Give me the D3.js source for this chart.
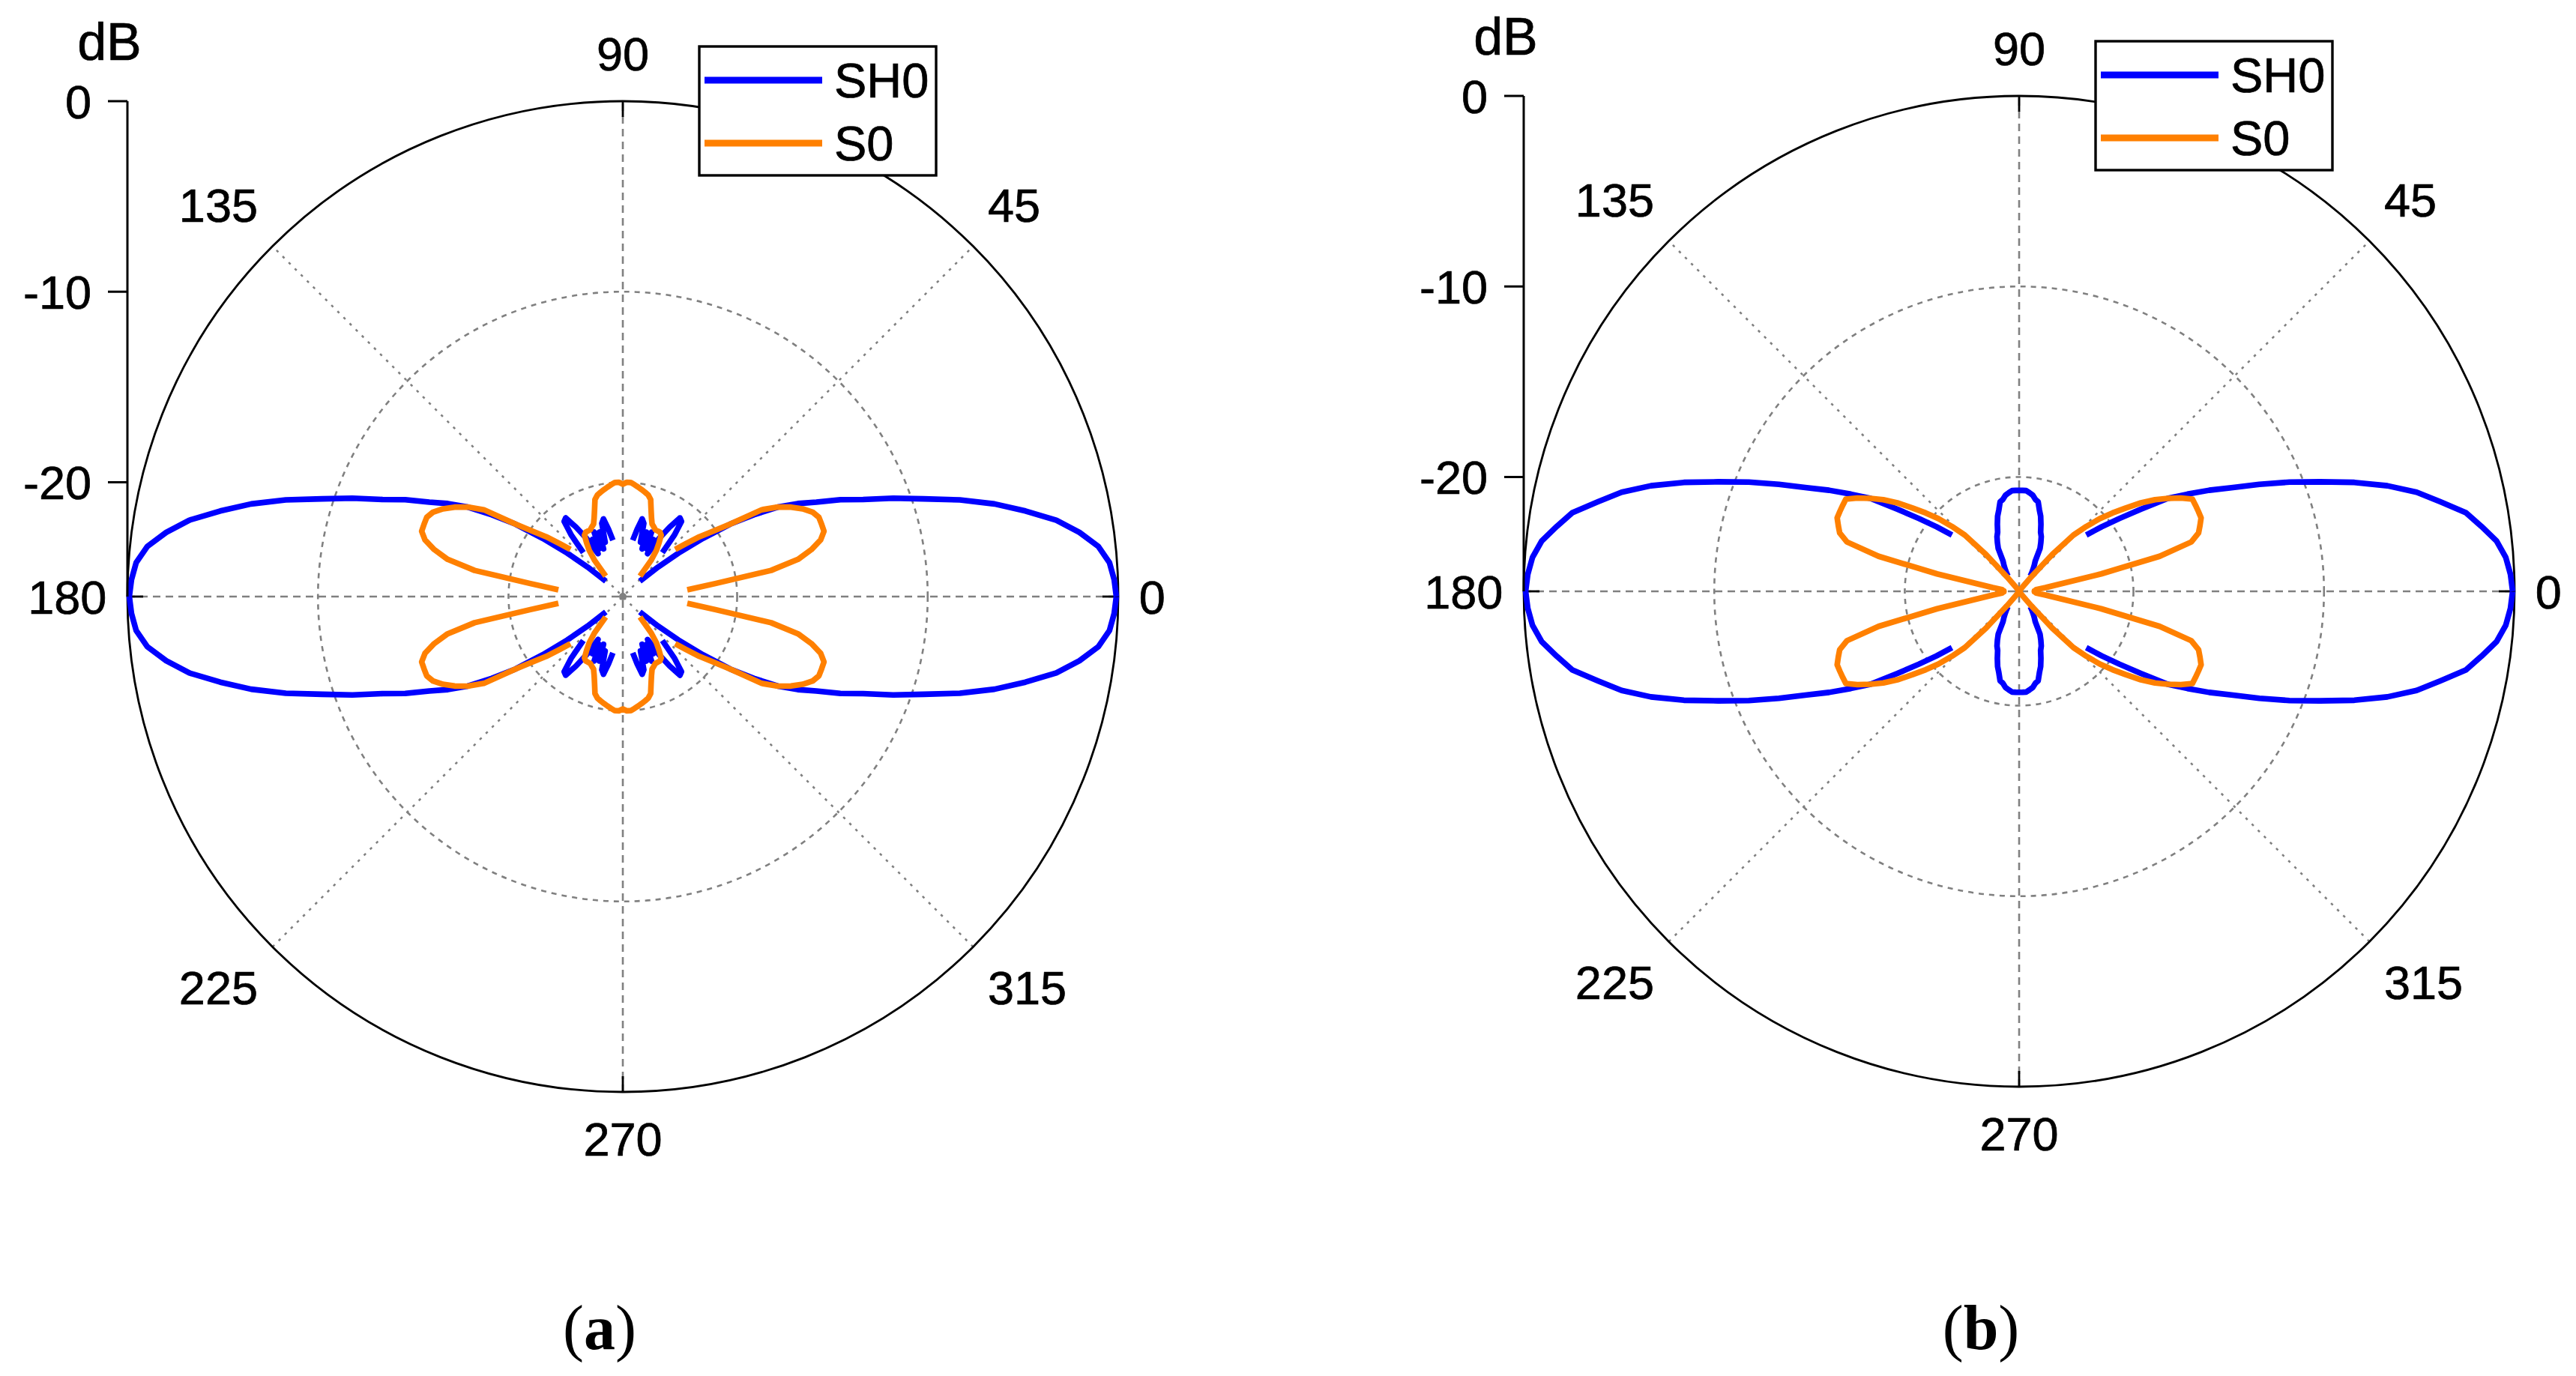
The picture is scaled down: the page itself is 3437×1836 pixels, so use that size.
<!DOCTYPE html>
<html>
<head>
<meta charset="utf-8">
<script src="https://cdn.jsdelivr.net/npm/d3@7"></script>
<style>
body { margin: 0; background: #fff; }
svg { display: block; background: #fff; }
text { font-family: "Liberation Sans", Arial, sans-serif; fill: #000; }
</style>
</head>
<body>
<svg id="chart" width="3437" height="1836"></svg>
<script>
// angles of the spokes / labels, and radial ticks in dB
var angleTicks = [0, 45, 90, 135, 180, 225, 270, 315];
var dbTicks = [0, -10, -20];
var dbLimits = [-26, 0];
var seriesNames = ['SH0', 'S0'];
var seriesColors = ['#0000ff', '#ff8000'];
var panelLabels = ['a', 'b'];

// curves are read every 2 degrees, 0..360 (null = below the plot floor, not drawn)
var sampleAngles = d3.range(0, 361, 2);

// (a) SH0
var sh0A = [
  -0.1, -0.2, -0.4, -0.9, -1.8, -2.9, -4.4, -5.9, -7.6, -9.4, -10.9, -12.4, -13.5, -14.7, -15.6, -16.6, -17.9, -19.2, -20.8, -22.3, -23.6, -24.8, null, null, -22.9, -21.8, -21.0, -20.9, -21.6, -22.4, -23.4, -22.6, -23.2, -22.3, -23.3, -22.4, -23.0, -22.0, -21.8, -22.4, -23.0, null, null, null, null, null,
  null, null, null, null, -23.0, -22.4, -21.8, -22.0, -23.0, -22.4, -23.3, -22.3, -23.2, -22.6, -23.4, -22.4, -21.6, -20.9, -21.0, -21.8, -22.9, null, null, -24.8, -23.6, -22.3, -20.8, -19.2, -17.9, -16.6, -15.6, -14.7, -13.5, -12.4, -10.9, -9.4, -7.6, -5.9, -4.4, -2.9, -1.8, -0.9, -0.4, -0.2, -0.1,
  -0.2, -0.4, -0.9, -1.8, -2.9, -4.4, -5.9, -7.6, -9.4, -10.9, -12.4, -13.5, -14.7, -15.6, -16.6, -17.9, -19.2, -20.8, -22.3, -23.6, -24.8, null, null, -22.9, -21.8, -21.0, -20.9, -21.6, -22.4, -23.4, -22.6, -23.2, -22.3, -23.3, -22.4, -23.0, -22.0, -21.8, -22.4, -23.0, null, null, null, null, null,
  null, null, null, null, -23.0, -22.4, -21.8, -22.0, -23.0, -22.4, -23.3, -22.3, -23.2, -22.6, -23.4, -22.4, -21.6, -20.9, -21.0, -21.8, -22.9, null, null, -24.8, -23.6, -22.3, -20.8, -19.2, -17.9, -16.6, -15.6, -14.7, -13.5, -12.4, -10.9, -9.4, -7.6, -5.9, -4.4, -2.9, -1.8, -0.9, -0.4, -0.2, -0.1
];

// (a) S0
var s0A = [
  null, null, null, -22.6, -21.1, -18.1, -16.6, -15.8, -15.2, -14.9, -14.9, -14.9, -15.1, -15.5, -16.0, -16.6, -17.4, -19.2, -20.2, -20.9, -21.7, -22.3, null, null, null, -24.6, -23.6, -23.0, -22.6, -22.2, -22.1, -22.1, -22.1, -22.0, -21.9, -21.6, -21.2, -20.7, -20.5, -20.4, -20.3, -20.2, -20.1, -20.0, -20.0, -20.1,
  -20.0, -20.0, -20.1, -20.2, -20.3, -20.4, -20.5, -20.7, -21.2, -21.6, -21.9, -22.0, -22.1, -22.1, -22.1, -22.2, -22.6, -23.0, -23.6, -24.6, null, null, null, -22.3, -21.7, -20.9, -20.2, -19.2, -17.4, -16.6, -16.0, -15.5, -15.1, -14.9, -14.9, -14.9, -15.2, -15.8, -16.6, -18.1, -21.1, -22.6, null, null, null,
  null, null, -22.6, -21.1, -18.1, -16.6, -15.8, -15.2, -14.9, -14.9, -14.9, -15.1, -15.5, -16.0, -16.6, -17.4, -19.2, -20.2, -20.9, -21.7, -22.3, null, null, null, -24.6, -23.6, -23.0, -22.6, -22.2, -22.1, -22.1, -22.1, -22.0, -21.9, -21.6, -21.2, -20.7, -20.5, -20.4, -20.3, -20.2, -20.1, -20.0, -20.0, -20.1,
  -20.0, -20.0, -20.1, -20.2, -20.3, -20.4, -20.5, -20.7, -21.2, -21.6, -21.9, -22.0, -22.1, -22.1, -22.1, -22.2, -22.6, -23.0, -23.6, -24.6, null, null, null, -22.3, -21.7, -20.9, -20.2, -19.2, -17.4, -16.6, -16.0, -15.5, -15.1, -14.9, -14.9, -14.9, -15.2, -15.8, -16.6, -18.1, -21.1, -22.6, null, null, null
];

// (b) SH0
var sh0B = [
  -0.1, -0.2, -0.4, -0.8, -1.5, -2.2, -3.4, -4.5, -5.9, -7.5, -9.2, -10.7, -12.2, -13.6, -14.7, -15.8, -16.8, -18.3, -19.5, -20.5, -21.4, null, null, null, null, null, null, -25.0, -24.8, -24.6, -24.4, -24.2, -23.5, -23.2, -22.9, -22.7, -22.3, -21.9, -21.6, -21.2, -21.1, -20.9, -20.8, -20.7, -20.7, -20.7,
  -20.7, -20.7, -20.8, -20.9, -21.1, -21.2, -21.6, -21.9, -22.3, -22.7, -22.9, -23.2, -23.5, -24.2, -24.4, -24.6, -24.8, -25.0, null, null, null, null, null, null, -21.4, -20.5, -19.5, -18.3, -16.8, -15.8, -14.7, -13.6, -12.2, -10.7, -9.2, -7.5, -5.9, -4.5, -3.4, -2.2, -1.5, -0.8, -0.4, -0.2, -0.1,
  -0.2, -0.4, -0.8, -1.5, -2.2, -3.4, -4.5, -5.9, -7.5, -9.2, -10.7, -12.2, -13.6, -14.7, -15.8, -16.8, -18.3, -19.5, -20.5, -21.4, null, null, null, null, null, null, -25.0, -24.8, -24.6, -24.4, -24.2, -23.5, -23.2, -22.9, -22.7, -22.3, -21.9, -21.6, -21.2, -21.1, -20.9, -20.8, -20.7, -20.7, -20.7,
  -20.7, -20.7, -20.8, -20.9, -21.1, -21.2, -21.6, -21.9, -22.3, -22.7, -22.9, -23.2, -23.5, -24.2, -24.4, -24.6, -24.8, -25.0, null, null, null, null, null, null, -21.4, -20.5, -19.5, -18.3, -16.8, -15.8, -14.7, -13.6, -12.2, -10.7, -9.2, -7.5, -5.9, -4.5, -3.4, -2.2, -1.5, -0.8, -0.4, -0.2, -0.1
];

// (b) S0
var s0B = [
  -25.2, -25.2, -25.1, -25.1, -24.6, -23.9, -21.6, -18.4, -16.6, -16.1, -15.9, -15.7, -15.7, -15.7, -15.7, -16.2, -16.8, -17.4, -18.1, -18.9, -19.6, -20.3, -21.1, -21.9, -23.4, -25.0, -25.7, -26, -26, -26, -26, -26, -26, -26, -26, -26, -26, -26, -26, -26, -26, -26, -26, -26, -26, -26,
  -26, -26, -26, -26, -26, -26, -26, -26, -26, -26, -26, -26, -26, -26, -26, -26, -26, -26, -25.7, -25.0, -23.4, -21.9, -21.1, -20.3, -19.6, -18.9, -18.1, -17.4, -16.8, -16.2, -15.7, -15.7, -15.7, -15.7, -15.9, -16.1, -16.6, -18.4, -21.6, -23.9, -24.6, -25.1, -25.1, -25.2, -25.2,
  -25.2, -25.1, -25.1, -24.6, -23.9, -21.6, -18.4, -16.6, -16.1, -15.9, -15.7, -15.7, -15.7, -15.7, -16.2, -16.8, -17.4, -18.1, -18.9, -19.6, -20.3, -21.1, -21.9, -23.4, -25.0, -25.7, -26, -26, -26, -26, -26, -26, -26, -26, -26, -26, -26, -26, -26, -26, -26, -26, -26, -26, -26,
  -26, -26, -26, -26, -26, -26, -26, -26, -26, -26, -26, -26, -26, -26, -26, -26, -26, -26, -25.7, -25.0, -23.4, -21.9, -21.1, -20.3, -19.6, -18.9, -18.1, -17.4, -16.8, -16.2, -15.7, -15.7, -15.7, -15.7, -15.9, -16.1, -16.6, -18.4, -21.6, -23.9, -24.6, -25.1, -25.1, -25.2, -25.2
];

var panels = [
  {label: panelLabels[0], cx: 831, cy: 796, capX: 800, series: [sh0A, s0A]},
  {label: panelLabels[1], cx: 2694, cy: 789, capX: 2643, series: [sh0B, s0B]}
];

var R = 661;
var svg = d3.select('#chart');
var grey = '#808080';
var fs = 63;

function drawPanel(p) {
  var g = svg.append('g').attr('transform', 'translate(' + p.cx + ',' + p.cy + ')');
  var r = d3.scaleLinear().domain(dbLimits).range([0, R]).clamp(true);
  var rad = function(a){ return a * Math.PI / 180; };

  // dotted range rings
  g.selectAll('circle.ring').data(dbTicks.filter(function(d){ return d !== 0; }))
    .enter().append('circle')
    .attr('class', 'ring')
    .attr('r', function(d){ return r(d); })
    .attr('fill', 'none').attr('stroke', grey).attr('stroke-width', 2.6)
    .attr('stroke-dasharray', '7,7');

  // spokes
  g.selectAll('line.spoke').data(angleTicks.filter(function(a){ return a < 180; }))
    .enter().append('line')
    .attr('class', 'spoke')
    .attr('x1', function(a){ return -R * Math.cos(rad(a)); })
    .attr('y1', function(a){ return R * Math.sin(rad(a)); })
    .attr('x2', function(a){ return R * Math.cos(rad(a)); })
    .attr('y2', function(a){ return -R * Math.sin(rad(a)); })
    .attr('stroke', grey).attr('stroke-width', 2.6)
    .attr('stroke-dasharray', function(a){ return a % 90 === 0 ? '10,7' : '3.5,8'; });

  // outer circle
  g.append('circle').attr('r', R)
    .attr('fill', 'none').attr('stroke', '#000').attr('stroke-width', 2.8);

  // small inward ticks on the main axes
  g.selectAll('line.tick').data(angleTicks.filter(function(a){ return a % 90 === 0; }))
    .enter().append('line')
    .attr('x1', function(a){ return (R - 21) * Math.cos(rad(a)); })
    .attr('y1', function(a){ return -(R - 21) * Math.sin(rad(a)); })
    .attr('x2', function(a){ return R * Math.cos(rad(a)); })
    .attr('y2', function(a){ return -R * Math.sin(rad(a)); })
    .attr('stroke', '#000').attr('stroke-width', 2.8);

  g.append('circle').attr('r', 5).attr('fill', grey);

  // curves
  var line = d3.lineRadial()
    .defined(function(d){ return d[1] !== null; })
    .angle(function(d){ return rad(90 - d[0]); })
    .radius(function(d){ return r(d[1]); });

  p.series.forEach(function(vals, i){
    var pts = sampleAngles.map(function(a, k){ return [a, vals[k]]; });
    g.append('path')
      .attr('d', line(pts))
      .attr('fill', 'none')
      .attr('stroke', seriesColors[i])
      .attr('stroke-width', 7.6)
      .attr('stroke-linejoin', 'round');
  });

  // angle labels
  var rl = 1.042 * R;
  angleTicks.forEach(function(a){
    var c = Math.cos(rad(a)), s = Math.sin(rad(a));
    var x = rl * c, y = -rl * s;
    var anchor = c > 0.01 ? 'start' : (c < -0.01 ? 'end' : 'middle');
    var base = s > 0.01 ? y - 0.212 * fs : (s < -0.01 ? y + 0.905 * fs : y + 0.358 * fs);
    g.append('text').attr('x', x).attr('y', base)
      .attr('text-anchor', anchor).attr('font-size', fs)
      .attr('stroke', '#000').attr('stroke-width', 0.7).text(a);
  });

  // radial dB axis
  g.append('line').attr('x1', -R).attr('x2', -R).attr('y1', -R).attr('y2', 0)
    .attr('stroke', '#000').attr('stroke-width', 3);
  dbTicks.forEach(function(v){
    var y = -r(v);
    g.append('line').attr('x1', -R - 26).attr('x2', -R).attr('y1', y).attr('y2', y)
      .attr('stroke', '#000').attr('stroke-width', 3);
    g.append('text').attr('x', -R - 48).attr('y', y + 0.358 * fs)
      .attr('text-anchor', 'end').attr('font-size', fs)
      .attr('stroke', '#000').attr('stroke-width', 0.7).text(v);
  });
  g.append('text').attr('x', -685).attr('y', -716)
    .attr('text-anchor', 'middle').attr('font-size', 70)
    .attr('stroke', '#000').attr('stroke-width', 0.7).text('dB');

  // legend
  var lg = g.append('g').attr('transform', 'translate(102,-734)');
  lg.append('rect').attr('width', 316).attr('height', 172)
    .attr('fill', '#fff').attr('stroke', '#000').attr('stroke-width', 3.4);
  seriesNames.forEach(function(name, i){
    var ly = 45 + i * 84;
    lg.append('line').attr('x1', 7).attr('x2', 164).attr('y1', ly).attr('y2', ly)
      .attr('stroke', seriesColors[i]).attr('stroke-width', 9);
    lg.append('text').attr('x', 180).attr('y', ly + 23)
      .attr('font-size', 65)
      .attr('stroke', '#000').attr('stroke-width', 0.7).text(name);
  });

  // caption
  var cap = svg.append('text').attr('x', p.capX).attr('y', 1800)
    .attr('text-anchor', 'middle')
    .style('font-family', '"Liberation Serif", "Times New Roman", serif')
    .attr('font-size', 84);
  cap.append('tspan').text('(');
  cap.append('tspan').attr('font-weight', 'bold').text(p.label);
  cap.append('tspan').text(')');
}

panels.forEach(drawPanel);
</script>
</body>
</html>
